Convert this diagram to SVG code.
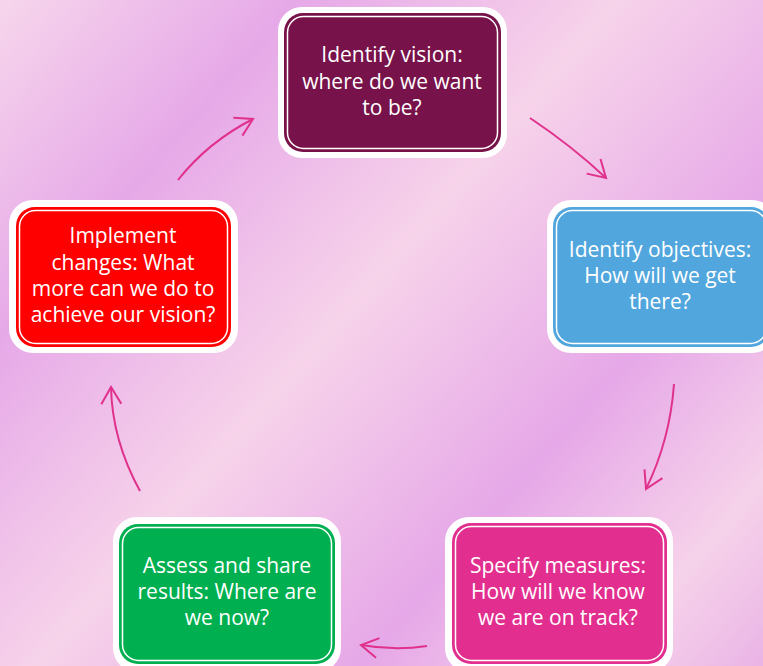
<svg xmlns="http://www.w3.org/2000/svg" width="763" height="666" viewBox="0 0 763 666">
<defs>
<linearGradient id="bg" gradientUnits="userSpaceOnUse" x1="0" y1="0" x2="763" y2="666">
<stop offset="0" stop-color="#F7D6EC"/>
<stop offset="0.22" stop-color="#E6A9E8"/>
<stop offset="0.46" stop-color="#F7D3EA"/>
<stop offset="0.70" stop-color="#E6A8E8"/>
<stop offset="0.88" stop-color="#F6D2EA"/>
<stop offset="1" stop-color="#EAB4E6"/>
</linearGradient>
<marker id="ah" markerUnits="userSpaceOnUse" markerWidth="40" markerHeight="40" refX="0" refY="0" viewBox="-20 -20 40 40" orient="auto" overflow="visible">
<path d="M-17,-10 L0,0 L-17,10" fill="none" stroke="#E0318C" stroke-width="2" stroke-linejoin="miter"/>
</marker>
</defs>
<style>
.outer{fill:#FFFFFF}
.line{fill:none;stroke:#FFFFFF;stroke-width:1.5}
.t{font-family:"Open Sans","Liberation Sans",sans-serif;font-size:21px;fill:#FFFFFF;text-anchor:middle}
.arr{fill:none;stroke:#E0318C;stroke-width:2;marker-end:url(#ah)}
</style>
<rect x="0" y="0" width="763" height="666" fill="url(#bg)"/>
<g id="connectors">
<path class="arr" d="M178,180 Q208,142 253,119"/>
<path class="arr" d="M530,118 Q572,146 606,178"/>
<path class="arr" d="M674,384 Q670,440 646,489"/>
<path class="arr" d="M427,646 Q395,651 361,645"/>
<path class="arr" d="M140,491 Q112,440 111,387"/>
</g>
<g id="node-vision">
<rect class="outer" x="278" y="7" width="229" height="151" rx="24"/>
<rect x="284" y="13" width="217" height="139" rx="19" fill="#78124A"/>
<rect class="line" x="287.5" y="16.5" width="210" height="132" rx="16"/>
<text class="t" x="392" y="62">Identify vision:</text>
<text class="t" x="392" y="88.5">where do we want</text>
<text class="t" x="392" y="115">to be?</text>
</g>
<g id="node-objectives">
<rect class="outer" x="547" y="200" width="229" height="153" rx="24"/>
<rect x="553" y="207" width="217" height="140" rx="19" fill="#51A6DD"/>
<rect class="line" x="556.5" y="210.5" width="210" height="133" rx="16"/>
<text class="t" x="660" y="257">Identify objectives:</text>
<text class="t" x="660" y="283">How will we get</text>
<text class="t" x="660" y="309">there?</text>
</g>
<g id="node-measures">
<rect class="outer" x="445" y="517" width="228" height="155" rx="24"/>
<rect x="452" y="523" width="215" height="141" rx="19" fill="#E22F8F"/>
<rect class="line" x="455.5" y="526.5" width="208" height="134" rx="16"/>
<text class="t" x="558" y="573">Specify measures:</text>
<text class="t" x="558" y="599">How will we know</text>
<text class="t" x="558" y="625">we are on track?</text>
</g>
<g id="node-results">
<rect class="outer" x="113" y="517" width="228" height="155" rx="24"/>
<rect x="119" y="524" width="216" height="140" rx="19" fill="#00B050"/>
<rect class="line" x="122.5" y="527.5" width="209" height="133" rx="16"/>
<text class="t" x="227" y="573">Assess and share</text>
<text class="t" x="227" y="599">results: Where are</text>
<text class="t" x="227" y="625">we now?</text>
</g>
<g id="node-implement">
<rect class="outer" x="9" y="200" width="229" height="153" rx="24"/>
<rect x="16" y="207" width="215" height="140" rx="19" fill="#FF0000"/>
<rect class="line" x="19.5" y="210.5" width="208" height="133" rx="16"/>
<text class="t" x="123" y="243">Implement</text>
<text class="t" x="123" y="270">changes: What</text>
<text class="t" x="123" y="296">more can we do to</text>
<text class="t" x="123" y="322">achieve our vision?</text>
</g>
</svg>
